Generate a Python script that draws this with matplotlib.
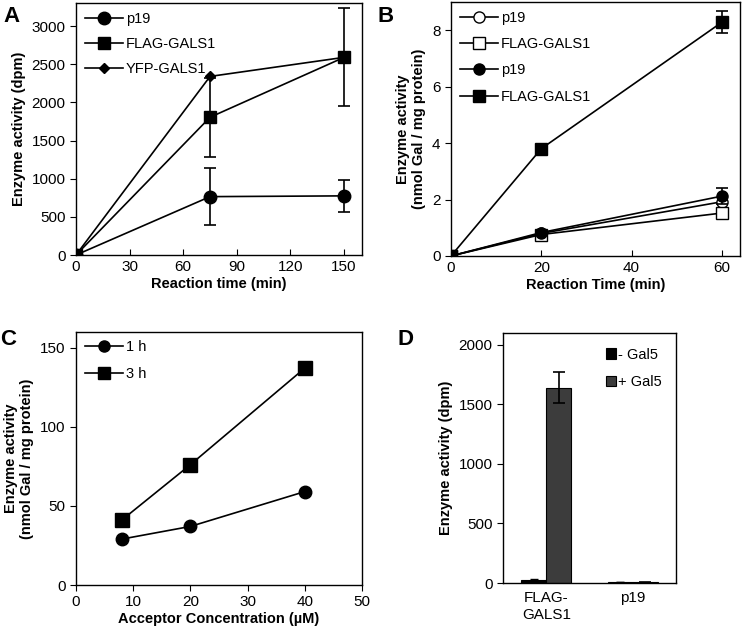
import numpy as np
import matplotlib.pyplot as plt
from matplotlib.lines import Line2D

plt.rcParams['font.family'] = ['Liberation Sans', 'DejaVu Sans']
plt.rcParams['font.size'] = 10.5
plt.rcParams['xtick.labelsize'] = 11
plt.rcParams['ytick.labelsize'] = 11

# panel A
time_a = [0, 75, 150]
p19_a = [0, 765, 775]
p19_a_err = [0, 370, 210]
flag_a = [0, 1805, 2590]
flag_a_err = [0, 520, 640]
yfp_a = [0, 2340, 2590]

# panel B
time_b = [0, 20, 60]
p19_b_open = [0, 0.80, 1.92]
flag_b_open = [0, 0.76, 1.52]
p19_b = [0, 0.83, 2.12]
p19_b_err = [0, 0.05, 0.28]
flag_b = [0, 3.80, 8.28]
flag_b_err = [0, 0.05, 0.38]

# panel C
conc_c = [8, 20, 40]
h1_c = [29, 37, 59]
h3_c = [41, 76, 137]

# panel D
cats_d = ['FLAG-\nGALS1', 'p19']
minus_gal5 = [25, 8]
minus_gal5_err = [5, 2]
plus_gal5 = [1640, 5]
plus_gal5_err = [130, 2]

fig = plt.figure(figsize=(7.47, 6.30), dpi=100)
lw = 1.2
ekw = dict(color='black', lw=lw, capsize=4, capthick=lw, elinewidth=lw)
legkw = dict(frameon=False, loc='upper left', handlelength=2.6, handletextpad=0.2,
             borderaxespad=0.2, fontsize=10.5)


def proxy(marker, ms, filled=True):
    return Line2D([], [], color='black', lw=lw, marker=marker, ms=ms,
                  mfc='black' if filled else 'white', mec='black')


# ---- A
axA = fig.add_axes([0.1017, 0.5952, 0.3829, 0.3998])
axA.errorbar(time_a, p19_a, yerr=p19_a_err, marker='o', ms=9, mfc='black', mec='black', **ekw)
axA.errorbar(time_a, flag_a, yerr=flag_a_err, marker='s', ms=9, mfc='black', mec='black', **ekw)
axA.plot(time_a, yfp_a, marker='D', ms=5, color='black', lw=lw)
axA.set_xlim(0, 160)
axA.set_ylim(0, 3300)
axA.set_xticks([0, 30, 60, 90, 120, 150])
axA.set_yticks(np.arange(0, 3001, 500))
axA.tick_params(axis='x', direction='in', length=4)
axA.tick_params(axis='y', direction='out', length=4)
axA.set_xlabel('Reaction time (min)', fontweight='bold', labelpad=2)
axA.set_ylabel('Enzyme activity (dpm)', fontweight='bold', labelpad=4)
axA.legend([proxy('o', 9), proxy('s', 9), proxy('D', 5)], ['p19', 'FLAG-GALS1', 'YFP-GALS1'],
           labelspacing=0.75, **legkw)

# ---- B
axB = fig.add_axes([0.6037, 0.5937, 0.3869, 0.4033])
axB.plot(time_b, p19_b_open, marker='o', ms=8, mfc='white', mec='black', color='black', lw=lw)
axB.plot(time_b, flag_b_open, marker='s', ms=8, mfc='white', mec='black', color='black', lw=lw)
axB.errorbar(time_b, p19_b, yerr=p19_b_err, marker='o', ms=8, mfc='black', mec='black', **ekw)
axB.errorbar(time_b, flag_b, yerr=flag_b_err, marker='s', ms=9, mfc='black', mec='black', **ekw)
axB.set_xlim(0, 64)
axB.set_ylim(0, 9)
axB.set_xticks([0, 20, 40, 60])
axB.set_yticks([0, 2, 4, 6, 8])
axB.tick_params(axis='x', direction='in', length=4)
axB.tick_params(axis='y', direction='out', length=4)
axB.set_xlabel('Reaction Time (min)', fontweight='bold', labelpad=2)
axB.set_ylabel('Enzyme activity\n(nmol Gal / mg protein)', fontweight='bold', labelpad=4)
axB.legend([proxy('o', 8, False), proxy('s', 8, False), proxy('o', 8), proxy('s', 8)],
           ['p19', 'FLAG-GALS1', 'p19', 'FLAG-GALS1'], labelspacing=0.85, **legkw)

# ---- C
axC = fig.add_axes([0.1017, 0.0714, 0.3829, 0.4021])
axC.plot(conc_c, h1_c, marker='o', ms=9, color='black', lw=lw)
axC.plot(conc_c, h3_c, marker='s', ms=10, color='black', lw=lw)
axC.set_xlim(0, 50)
axC.set_ylim(0, 160)
axC.set_xticks([0, 10, 20, 30, 40, 50])
axC.set_yticks([0, 50, 100, 150])
axC.tick_params(direction='out', length=4)
axC.set_xlabel('Acceptor Concentration (µM)', fontweight='bold', labelpad=2)
axC.set_ylabel('Enzyme activity\n(nmol Gal / mg protein)', fontweight='bold', labelpad=4)
axC.legend([proxy('o', 8), proxy('s', 8)], ['1 h', '3 h'], labelspacing=0.85, **legkw)

# ---- D
axD = fig.add_axes([0.6734, 0.0746, 0.2316, 0.3968])
idx = np.arange(len(cats_d))
bw = 0.29
axD.bar(idx - bw / 2, minus_gal5, bw, yerr=minus_gal5_err, color='black', edgecolor='black',
        lw=0.8, label='- Gal5', error_kw=dict(lw=1, capsize=3))
axD.bar(idx + bw / 2, plus_gal5, bw, yerr=plus_gal5_err, color='#3c3c3c', edgecolor='black',
        lw=0.8, label='+ Gal5', error_kw=dict(lw=1.2, capsize=4, capthick=1.2))
axD.set_xlim(-0.5, 1.5)
axD.set_ylim(0, 2100)
axD.set_xticks(idx)
axD.set_xticklabels(cats_d)
axD.set_yticks([0, 500, 1000, 1500, 2000])
axD.tick_params(axis='x', length=0, pad=6)
axD.tick_params(axis='y', direction='out', length=4)
axD.set_ylabel('Enzyme activity (dpm)', fontweight='bold', labelpad=4)
axD.legend(frameon=False, loc='upper right', handlelength=0.7, handleheight=0.7, handletextpad=0.1,
           labelspacing=0.9, borderaxespad=0.6, fontsize=10.5)

for ax in [axA, axB, axC, axD]:
    for s in ax.spines.values():
        s.set_linewidth(1.0)

fig.text(0.004, 0.99, 'A', fontsize=16, fontweight='bold', va='top')
fig.text(0.505, 0.99, 'B', fontsize=16, fontweight='bold', va='top')
fig.text(0.0, 0.478, 'C', fontsize=16, fontweight='bold', va='top')
fig.text(0.532, 0.478, 'D', fontsize=16, fontweight='bold', va='top')

fig.savefig('out.png', dpi=100)
